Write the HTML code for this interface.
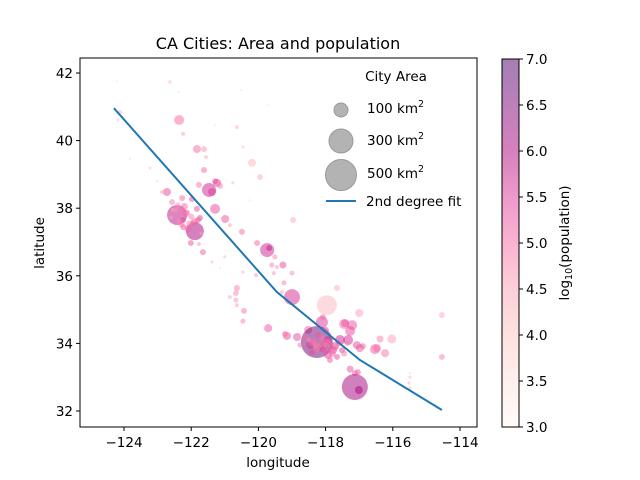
<!DOCTYPE html>
<html><head><meta charset="utf-8"><style>
body{margin:0;background:#fff;}
svg{display:block;font-family:"DejaVu Sans","Liberation Sans",sans-serif;}
</style></head><body>
<svg id="chart" width="640" height="480" viewBox="0 0 640 480">
<defs>
<linearGradient id="cbgrad" x1="0" y1="1" x2="0" y2="0">
<stop offset="0" stop-color="#fff7f3"/><stop offset="0.125" stop-color="#fde0dd"/><stop offset="0.25" stop-color="#fcc5c0"/><stop offset="0.375" stop-color="#fa9fb5"/><stop offset="0.5" stop-color="#f768a1"/><stop offset="0.625" stop-color="#dd3497"/><stop offset="0.75" stop-color="#ae017e"/><stop offset="0.875" stop-color="#7a0177"/><stop offset="1" stop-color="#49006a"/>
</linearGradient>
<clipPath id="plotclip"><rect x="80" y="58" width="397" height="369"/></clipPath>
</defs>
<text x="278" y="49" text-anchor="middle" font-size="16" fill="#000">CA Cities: Area and population</text>
<g id="points" clip-path="url(#plotclip)"></g>
<g id="fit" clip-path="url(#plotclip)"></g>
<rect x="80" y="58" width="397" height="369" fill="none" stroke="#000" stroke-width="1"/>
<g id="axes"></g>
<text x="278" y="467" text-anchor="middle" font-size="13.5">longitude</text>
<text transform="translate(44,243) rotate(-90)" text-anchor="middle" font-size="13.5">latitude</text>
<g id="legend">
<text x="396" y="81" text-anchor="middle" font-size="13.5">City Area</text>
<circle cx="341" cy="110" r="7" fill="#b3b3b3" stroke="#999"/>
<text x="367" y="113" font-size="13.5">100 km<tspan font-size="9.5" dy="-6">2</tspan></text>
<circle cx="341" cy="141" r="12" fill="#b3b3b3" stroke="#999"/>
<text x="367" y="145" font-size="13.5">300 km<tspan font-size="9.5" dy="-6">2</tspan></text>
<circle cx="341" cy="175" r="15.5" fill="#b3b3b3" stroke="#999"/>
<text x="367" y="178" font-size="13.5">500 km<tspan font-size="9.5" dy="-6">2</tspan></text>
<line x1="326" y1="201" x2="356" y2="201" stroke="#1f77b4" stroke-width="2"/>
<text x="366" y="206" font-size="13.5">2nd degree fit</text>
</g>
<g id="colorbar">
<rect x="502" y="59" width="17" height="368" fill="url(#cbgrad)" fill-opacity="0.5" stroke="#000" stroke-width="1"/>
</g>
<text transform="translate(569,243) rotate(-90)" text-anchor="middle" font-size="13.5">log<tspan font-size="9.5" dy="3">10</tspan><tspan dy="-3">(population)</tspan></text>
</svg>
<script>
const lon=[-124.21,-122.63,-122.36,-122.24,-121.83,-121.62,-121.56,-121.62,-121.29,-121.23,-121.47,-121.38,-121.14,-121.29,-120.99,-120.85,-120.49,-120.04,-119.74,-119.68,-120.19,-119.95,-120.64,-118.97,-122.72,-122.42,-121.89,-121.98,-121.83,-121.74,-122.27,-122.57,-122.87,-122.01,-121.77,-121.65,-123.23,-123.82,-123.02,-120.76,-120.46,-120.52,-122.36,-124.12,-124.18,-121.77,-122.24,-122.24,-121.80,-119.51,-119.45,-120.07,-120.46,-121.0,-121.38,-119.27,-119.60,-119.54,-119.0,-119.24,-119.0,-119.30,-117.96,-117.66,-117.0,-120.64,-120.67,-120.85,-120.67,-120.64,-120.43,-120.46,-119.71,-119.15,-118.85,-118.52,-118.11,-118.08,-118.26,-117.45,-117.21,-117.27,-117.33,-117.57,-117.07,-116.89,-116.53,-116.23,-116.38,-116.03,-117.78,-117.93,-117.66,-117.27,-117.13,-117.13,-117.01,-114.54,-114.54,-115.49,-115.49,-115.52,-115.49,-121.14,-119.21,-117.42,-116.98,-116.47,-117.04,-118.46,-118.11,-117.93,-118.40,-117.72,-118.23,-118.61,-117.51,-117.87,-118.76,-117.99,-121.29,-119.71,-120.25,-115.55,
-122.30,-122.15,-122.05,-122.35,-122.10,-121.95,-122.45,-122.20,-122.00,-122.55,-122.40,-121.90,-122.12,-122.28,-121.70,-122.60,
-118.35,-118.15,-118.05,-117.85,-118.30,-118.00,-117.95,-118.20,-118.40,-117.80,-118.10,-117.70,-118.50,-117.60,-118.25,-118.02,-117.88,-118.32,-117.45,-117.35];
const lat=[41.76,41.73,40.61,40.20,39.75,39.75,39.51,39.13,38.80,38.75,38.54,38.48,38.66,37.98,37.68,37.50,37.30,36.97,36.76,36.82,39.34,38.92,40.40,37.65,38.48,37.80,37.32,38.27,37.98,37.71,38.30,38.18,38.48,36.97,36.94,36.70,39.19,39.46,38.80,38.75,39.81,41.50,41.44,40.85,40.61,38.69,37.65,37.44,37.65,36.56,36.26,36.02,36.11,36.56,36.41,36.32,36.32,36.08,36.08,35.79,35.37,35.52,35.13,35.64,34.90,35.64,35.49,35.37,35.28,35.13,34.96,34.66,34.45,34.22,34.19,34.40,34.63,34.78,34.04,34.57,34.54,34.37,34.10,34.10,33.95,33.92,33.83,33.71,34.13,34.13,33.80,33.66,33.60,33.24,33.12,32.71,32.62,34.84,33.60,33.12,33.0,32.83,32.68,36.23,34.28,34.60,33.86,33.86,33.15,33.95,33.86,34.10,33.74,33.92,34.25,34.16,33.80,33.51,33.95,34.40,40.46,41.05,38.24,34.22,
37.90,37.85,37.55,37.60,37.40,37.55,37.95,38.05,37.75,37.95,38.10,37.60,37.88,37.52,37.25,37.72,
34.05,33.98,34.00,33.85,33.90,33.78,34.05,33.92,34.02,33.70,34.15,33.88,34.10,34.00,33.82,33.95,34.02,33.97,33.70,34.00];
const areaKm2=[2,8,51,8,33,18,8,18,18,33,100,33,18,51,33,8,18,18,100,18,33,18,8,18,33,204,165,18,18,18,18,18,8,18,8,18,5,2,2,5,5,2,2,8,5,18,18,18,18,13,8,8,5,5,5,25,13,8,13,13,130,8,204,18,33,18,18,8,13,8,18,13,33,33,33,33,73,18,520,51,51,51,51,51,33,18,51,33,25,41,33,33,18,25,18,345,33,18,18,2,5,5,5,2,18,33,33,33,18,33,33,33,18,33,18,18,18,18,13,18,2,2,2,2,
18,25,18,13,25,18,13,25,18,8,13,25,13,18,8,8,
25,18,25,18,13,25,18,13,18,25,18,13,13,18,18,13,18,13,18,13];
const logPop=[3.5,4.0,5.0,4.5,5.0,4.6,4.3,5.0,5.2,5.5,5.7,5.5,4.8,5.3,5.2,4.5,5.0,5.0,5.7,5.8,4.2,4.3,4.2,4.3,5.3,5.9,6.0,5.2,5.3,5.4,5.0,4.8,4.5,5.2,4.6,5.1,4.0,4.0,4.0,4.2,4.0,3.8,3.8,4.2,4.0,4.9,5.3,5.1,5.2,4.8,4.6,4.6,4.3,4.2,4.2,5.3,4.8,4.6,4.7,4.8,5.6,4.5,4.2,4.3,4.5,4.8,4.7,4.4,4.6,4.5,4.9,4.8,5.2,5.3,5.3,5.1,5.5,5.0,6.6,5.0,5.2,5.3,5.6,5.7,5.3,5.1,5.2,4.9,4.8,4.5,5.5,5.4,5.3,5.2,5.1,6.1,6.0,4.3,4.8,4.0,4.2,4.3,4.3,3.8,5.0,5.3,5.2,5.0,5.2,5.5,5.4,5.6,5.3,5.5,5.2,5.0,5.4,5.2,4.9,5.3,3.6,3.5,3.7,3.8,
4.8,5.0,4.9,4.7,5.1,4.9,4.6,5.0,4.8,4.4,4.7,5.1,4.8,4.9,4.5,4.4,
5.0,4.9,5.1,5.0,4.8,5.1,4.9,4.8,4.9,5.0,4.9,4.8,4.7,4.9,4.9,4.8,5.0,4.8,4.9,4.8];
const fitLon=[-124.3,-119.45,-116.98,-114.54];
const fitLat=[40.96,35.52,33.51,32.03];
const xTicks=[-124,-122,-120,-118,-116,-114];
const yTicks=[32,34,36,38,40,42];
const cbTicks=[3.0,3.5,4.0,4.5,5.0,5.5,6.0,6.5,7.0];

const NS='http://www.w3.org/2000/svg';
const xs=v=>124+(v+124)*33.6;
const ys=v=>73+(42-v)*33.8;
const cbY=v=>427-(v-3)/4*368;
const stops=['#fff7f3','#fde0dd','#fcc5c0','#fa9fb5','#f768a1','#dd3497','#ae017e','#7a0177','#49006a'].map(h=>[1,3,5].map(i=>parseInt(h.substr(i,2),16)));
function cmap(v){let t=Math.max(0,Math.min(1,(v-3)/4))*8;let i=Math.min(7,Math.floor(t));let f=t-i;const c=stops[i].map((a,k)=>Math.round(a+(stops[i+1][k]-a)*f));return 'rgb('+c.join(',')+')';}
function mk(tag,attrs,parent){const e=document.createElementNS(NS,tag);for(const k in attrs)e.setAttribute(k,attrs[k]);parent.appendChild(e);return e;}

const pg=document.getElementById('points');
for(let i=0;i<lon.length;i++){
  const c=mk('circle',{cx:xs(lon[i]),cy:ys(lat[i]),r:0.7*Math.sqrt(areaKm2[i]),fill:cmap(logPop[i]),'fill-opacity':0.5},pg);
  
  
}
const fg=document.getElementById('fit');
const pl=mk('polyline',{points:fitLon.map((v,i)=>xs(v)+','+ys(fitLat[i])).join(' '),fill:'none',stroke:'#1f77b4','stroke-width':2},fg);



const ax=document.getElementById('axes');
xTicks.forEach(t=>{
  const l=mk('line',{x1:xs(t),x2:xs(t),y1:427,y2:431,stroke:'#000'},ax);
  
  
  const tx=mk('text',{x:xs(t),y:447,'text-anchor':'middle','font-size':13.5},ax);
  tx.textContent='\u2212'+Math.abs(t);
  
  
});
yTicks.forEach(t=>{
  const l=mk('line',{x1:76,x2:80,y1:ys(t),y2:ys(t),stroke:'#000'},ax);
  
  
  const tx=mk('text',{x:73,y:ys(t)+5,'text-anchor':'end','font-size':13.5},ax);
  tx.textContent=t;
  
  
});
const cb=document.getElementById('colorbar');
cbTicks.forEach(t=>{
  const l=mk('line',{x1:519,x2:523,y1:cbY(t),y2:cbY(t),stroke:'#000'},cb);
  
  
  const tx=mk('text',{x:526,y:cbY(t)+5,'font-size':13.5},cb);
  tx.textContent=t.toFixed(1);
  
  
});
</script>
</body></html>
